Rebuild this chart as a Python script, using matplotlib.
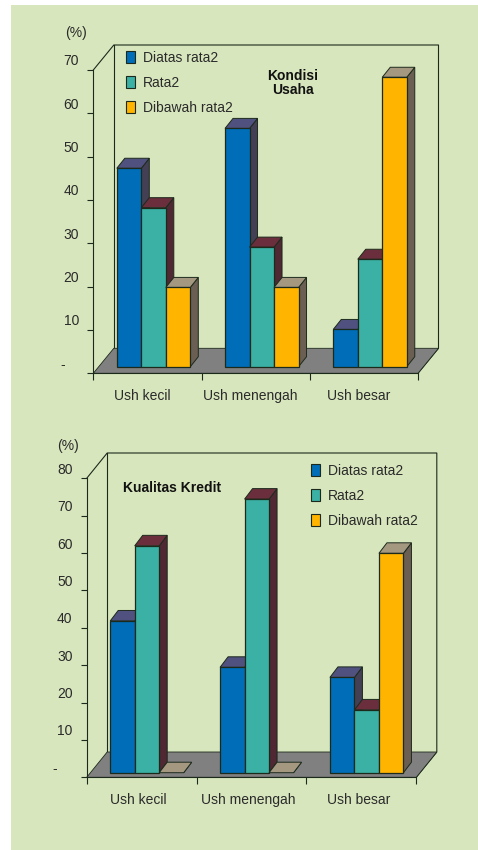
import matplotlib
matplotlib.use('Agg')
import matplotlib.pyplot as plt
from matplotlib.patches import Patch, Polygon, Rectangle
from matplotlib.transforms import Affine2D, ScaledTranslation

plt.rcParams['font.family'] = ['Liberation Sans', 'DejaVu Sans']

W, H = 478, 850

# data
categories = ['Ush kecil', 'Ush menengah', 'Ush besar']
series_names = ['Diatas rata2', 'Rata2', 'Dibawah rata2']

kondisi_diatas = [45.8, 55.0, 8.6]
kondisi_rata = [36.7, 27.6, 24.8]
kondisi_dibawah = [18.3, 18.3, 66.8]
kondisi_ticks = [0, 10, 20, 30, 40, 50, 60, 70]

kredit_diatas = [40.6, 28.2, 25.5]
kredit_rata = [60.7, 73.2, 16.8]
kredit_dibawah = [0, 0, 58.7]
kredit_ticks = [0, 10, 20, 30, 40, 50, 60, 70, 80]

# front, top, side colour of each series
front_colors = ['#006db8', '#3bb0a4', '#ffb400']
top_colors = ['#50517f', '#6b2e3c', '#a59880']
side_colors = ['#433f55', '#4f2833', '#6b5e52']
BG = '#d8e6bd'
FLOOR = '#808080'
INK = '#1c2a1c'
TEXT = '#2a2a2a'

fig = plt.figure(figsize=(W / 100, H / 100), dpi=100, facecolor='white')

# pixel coordinates of the reference, y downwards
px = Affine2D().scale(1 / W, -1 / H).translate(0, 1) + fig.transFigure

fig.patches.append(Rectangle((11, 5), 467, 845, transform=px, facecolor=BG, edgecolor='none', zorder=-1))


def draw_chart(left, right, top, bottom, ymax, yticks, values, depth, base, bar_dy, bar_shift, label_shift, dash_shift):
    ax = fig.add_axes([left / W, 1 - bottom / H, (right - left) / W, (bottom - top) / H])
    ax.set_xlim(0, 3)
    ax.set_ylim(0, ymax)
    ax.patch.set_visible(False)
    for name in ['top', 'right']:
        ax.spines[name].set_visible(False)
    for name in ['left', 'bottom']:
        ax.spines[name].set_color(INK)
        ax.spines[name].set_linewidth(0.8)

    # pixel sizes to data units
    ux = 3 / (right - left)
    uy = ymax / (bottom - top)
    dx, dy = depth[0] * ux, depth[1] * uy

    # back wall and floor, under the bars
    wall = [(0, ymax), (dx, ymax + dy), (3 + dx, ymax + dy), (3 + dx, dy), (3, 0)]
    ax.plot(*zip(*wall), color=INK, lw=0.8, clip_on=False, zorder=0.5)
    ax.plot([dx, dx], [dy, ymax + dy], color=INK, lw=0.8, clip_on=False, zorder=0.5)
    ax.add_patch(Polygon([(0, 0), (3, 0), (3 + dx, dy), (dx, dy)], facecolor=FLOOR, edgecolor=INK, lw=0.6,
                         clip_on=False, zorder=0.6))

    # bars, left to right so each one covers the side of the one before
    bdx, bdy = bar_dy[0] * ux, bar_dy[1] * uy
    y0 = base * uy
    bar_w = 24.5 * ux
    for i in range(len(categories)):
        for j in range(len(values)):
            x0 = i + (bar_shift + j * 24.5) * ux
            x1 = x0 + bar_w
            y1 = y0 + values[j][i]
            ax.add_patch(Polygon([(x1, y0), (x1 + bdx, y0 + bdy), (x1 + bdx, y1 + bdy), (x1, y1)],
                                 facecolor=side_colors[j], edgecolor=INK, lw=0.7, clip_on=False))
            ax.add_patch(Polygon([(x0, y1), (x1, y1), (x1 + bdx, y1 + bdy), (x0 + bdx, y1 + bdy)],
                                 facecolor=top_colors[j], edgecolor=INK, lw=0.7, clip_on=False))
            if values[j][i] > 0:
                ax.add_patch(Rectangle((x0, y0), bar_w, values[j][i],
                                       facecolor=front_colors[j], edgecolor=INK, lw=0.9, clip_on=False))

    # y ticks, labels sit above their tick like the original
    ax.set_yticks(yticks)
    ax.set_yticklabels(['-' if t == 0 else str(t) for t in yticks], fontsize=10, color=TEXT)
    ax.tick_params(axis='y', length=4.2, width=0.8, color=INK, pad=6)
    up = ScaledTranslation(0, 10 / 100, fig.dpi_scale_trans)
    dash_left = ScaledTranslation(dash_shift / 100, 0, fig.dpi_scale_trans)
    for t, lab in zip(yticks, ax.get_yticklabels()):
        lab.set_transform(lab.get_transform() + up + dash_left if t == 0 else lab.get_transform() + up)

    # category boundaries as major ticks, names on minor ticks
    ax.set_xticks([0, 1, 2, 3])
    ax.set_xticklabels([])
    ax.set_xticks([0.5, 1.5, 2.5], minor=True)
    ax.set_xticklabels(categories, minor=True, fontsize=10, color=TEXT)
    ax.tick_params(axis='x', which='major', length=5, width=0.8, color=INK)
    ax.tick_params(axis='x', which='minor', length=0, pad=11)
    left_shift = ScaledTranslation(label_shift / 100, 0, fig.dpi_scale_trans)
    for lab in ax.get_xticklabels(minor=True):
        lab.set_transform(lab.get_transform() + left_shift)
    return ax


def add_legend(ax, x, y):
    handles = [Patch(facecolor=c, edgecolor=INK, lw=0.8) for c in front_colors]
    ax.legend(handles, series_names, loc='upper left', bbox_to_anchor=(x, y), bbox_transform=px,
              frameon=False, fontsize=10, labelcolor=TEXT, borderpad=0, borderaxespad=0,
              handlelength=0.68, handleheight=0.95, handletextpad=0.55, labelspacing=0.8)


kondisi = [kondisi_diatas, kondisi_rata, kondisi_dibawah]
ax1 = draw_chart(93.3, 418, 70, 373.3, 70, kondisi_ticks, kondisi, (20.5, 25), 6.6, (8, 10), 23.5, -5, -14)
add_legend(ax1, 126, 51)
fig.text(292.7, 83, 'Kondisi\nUsaha', transform=px, ha='center', va='center', fontsize=10,
         fontweight='bold', color='#111111', linespacing=0.95)
fig.text(75.7, 32.7, '(%)', transform=px, ha='center', va='center', fontsize=10, color=TEXT)

kredit = [kredit_diatas, kredit_rata, kredit_dibawah]
ax2 = draw_chart(86.7, 416.3, 478.3, 777.3, 80, kredit_ticks, kredit, (20.5, 25.3), 4.6, (8, 10.5), 23.5, -3, -16)
add_legend(ax2, 311, 464)
fig.text(122.7, 488.3, 'Kualitas Kredit', transform=px, ha='left', va='center', fontsize=10,
         fontweight='bold', color='#111111')
fig.text(68, 446, '(%)', transform=px, ha='center', va='center', fontsize=10, color=TEXT)

fig.savefig('out.png', dpi=100, facecolor=fig.get_facecolor())
